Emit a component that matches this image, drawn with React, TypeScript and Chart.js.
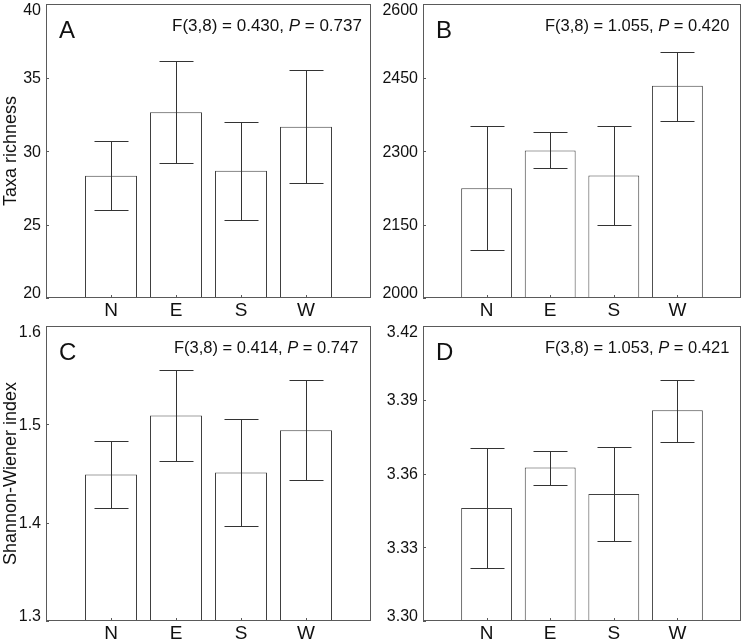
import React, { useEffect, useRef } from 'react';
import { Chart, registerables } from 'chart.js';

Chart.register(...registerables);

const FONT = '"Liberation Sans", Arial, Helvetica, sans-serif';

// categories (blank ends give the outer spacing of the original axes)
const categories = ['', 'N', 'E', 'S', 'W', ''];

// Panel A: taxa richness
const richnessMean = [null, 28.32, 32.63, 28.66, 31.65, null];
const richnessLow = [null, 25.96, 29.16, 25.31, 27.8, null];
const richnessHigh = [null, 30.66, 36.14, 31.97, 35.49, null];
const richnessTicks = [20, 25, 30, 35, 40];

// Panel B
const bMean = [null, 2224, 2301, 2250, 2433, null];
const bLow = [null, 2097, 2265, 2150, 2362, null];
const bHigh = [null, 2351, 2339, 2351, 2503, null];
const bTicks = [2000, 2150, 2300, 2450, 2600];

// Panel C: Shannon-Wiener index
const shannonMean = [null, 1.449, 1.509, 1.451, 1.494, null];
const shannonLow = [null, 1.415, 1.463, 1.397, 1.443, null];
const shannonHigh = [null, 1.483, 1.555, 1.505, 1.545, null];
const shannonTicks = [1.3, 1.4, 1.5, 1.6];

// Panel D
const dMean = [null, 3.346, 3.3624, 3.3517, 3.3857, null];
const dLow = [null, 3.3217, 3.3553, 3.3327, 3.3728, null];
const dHigh = [null, 3.3704, 3.3692, 3.3707, 3.3982, null];
const dTicks = [3.3, 3.33, 3.36, 3.39, 3.42];

type PanelCfg = {
  letter: string;
  mean: (number | null)[];
  low: (number | null)[];
  high: (number | null)[];
  ticks: number[];
  decimals: number;
  yTitle: string;
  stat1: string;
  stat2: string;
  statX: number;
  statSize: number;
  left: number;
  top: number;
  width: number;
  height: number;
  padTop: number;
  padRight: number;
  yAxisW: number;
  xAxisH: number;
};

const panels: PanelCfg[] = [
  {
    letter: 'A', mean: richnessMean, low: richnessLow, high: richnessHigh, ticks: richnessTicks, decimals: 0,
    yTitle: 'Taxa richness', stat1: 'F(3,8) = 0.430, ', stat2: ' = 0.737', statX: 126, statSize: 17,
    left: 0, top: 0, width: 372, height: 320, padTop: 4, padRight: 1, yAxisW: 46, xAxisH: 22,
  },
  {
    letter: 'B', mean: bMean, low: bLow, high: bHigh, ticks: bTicks, decimals: 0,
    yTitle: '', stat1: 'F(3,8) = 1.055, ', stat2: ' = 0.420', statX: 122, statSize: 16.5,
    left: 372, top: 0, width: 372, height: 320, padTop: 4, padRight: 3, yAxisW: 51, xAxisH: 22,
  },
  {
    letter: 'C', mean: shannonMean, low: shannonLow, high: shannonHigh, ticks: shannonTicks, decimals: 1,
    yTitle: 'Shannon-Wiener index', stat1: 'F(3,8) = 0.414, ', stat2: ' = 0.747', statX: 128, statSize: 16.5,
    left: 0, top: 320, width: 372, height: 321, padTop: 6, padRight: 1, yAxisW: 46, xAxisH: 20,
  },
  {
    letter: 'D', mean: dMean, low: dLow, high: dHigh, ticks: dTicks, decimals: 2,
    yTitle: '', stat1: 'F(3,8) = 1.053, ', stat2: ' = 0.421', statX: 122, statSize: 16.5,
    left: 372, top: 320, width: 372, height: 321, padTop: 6, padRight: 3, yAxisW: 51, xAxisH: 20,
  },
];

function makePlugin(cfg: PanelCfg) {
  return {
    id: 'panelDecor' + cfg.letter,
    afterDatasetsDraw(chart: any) {
      const ctx: CanvasRenderingContext2D = chart.ctx;
      const { left, right, top, bottom } = chart.chartArea;
      const xs = chart.scales.x;
      const ys = chart.scales.y;
      ctx.save();

      // error bars
      ctx.strokeStyle = '#333333';
      ctx.lineWidth = 1;
      const capHalf = 17;
      for (let i = 0; i < categories.length; i++) {
        const lo = cfg.low[i];
        const hi = cfg.high[i];
        if (lo == null || hi == null) continue;
        const x = Math.round(xs.getPixelForValue(i)) + 0.5;
        const yl = Math.round(ys.getPixelForValue(lo)) + 0.5;
        const yh = Math.round(ys.getPixelForValue(hi)) + 0.5;
        ctx.beginPath();
        ctx.moveTo(x, yl);
        ctx.lineTo(x, yh);
        ctx.moveTo(x - capHalf, yl);
        ctx.lineTo(x + capHalf, yl);
        ctx.moveTo(x - capHalf, yh);
        ctx.lineTo(x + capHalf, yh);
        ctx.stroke();
      }

      // frame
      ctx.strokeStyle = '#5a5a5a';
      ctx.strokeRect(left + 0.5, top + 0.5, right - left - 1, bottom - top - 1);

      // inner tick marks
      ctx.beginPath();
      for (let i = 0; i < categories.length; i++) {
        if (!categories[i]) continue;
        const x = Math.round(xs.getPixelForValue(i)) + 0.5;
        ctx.moveTo(x, bottom);
        ctx.lineTo(x, bottom - 3);
      }
      cfg.ticks.forEach((t) => {
        const y = Math.round(ys.getPixelForValue(t)) + 0.5;
        ctx.moveTo(left, y);
        ctx.lineTo(left + 3, y);
      });
      ctx.stroke();

      // y tick labels
      ctx.fillStyle = '#111111';
      ctx.font = `16px ${FONT}`;
      ctx.textAlign = 'right';
      ctx.textBaseline = 'alphabetic';
      cfg.ticks.forEach((t) => {
        const y = ys.getPixelForValue(t);
        const base = Math.max(top + 11, Math.min(bottom, y + 5.7));
        ctx.fillText(t.toFixed(cfg.decimals), left - 5, base);
      });

      // panel letter
      ctx.textAlign = 'left';
      ctx.font = `24px ${FONT}`;
      ctx.fillText(cfg.letter, left + 13, top + 34);

      // statistics
      ctx.font = `${cfg.statSize}px ${FONT}`;
      let x = left + cfg.statX;
      const base = top + 26.5;
      ctx.fillText(cfg.stat1, x, base);
      x += ctx.measureText(cfg.stat1).width;
      ctx.font = `italic ${cfg.statSize}px ${FONT}`;
      ctx.fillText('P', x, base);
      x += ctx.measureText('P').width;
      ctx.font = `${cfg.statSize}px ${FONT}`;
      ctx.fillText(cfg.stat2, x, base);

      ctx.restore();
    },
  };
}

function Panel({ cfg }: { cfg: PanelCfg }) {
  const ref = useRef<HTMLCanvasElement>(null);
  useEffect(() => {
    const canvas = ref.current;
    if (!canvas) return;
    const yMin = cfg.ticks[0];
    const yMax = cfg.ticks[cfg.ticks.length - 1];
    const chart = new Chart(canvas, {
      type: 'bar',
      data: {
        labels: categories,
        datasets: [
          {
            data: cfg.mean as any,
            backgroundColor: '#ffffff',
            borderColor: '#404040',
            borderWidth: 1,
            borderSkipped: false,
            barPercentage: 0.8,
            categoryPercentage: 1,
          },
        ],
      },
      options: {
        animation: false,
        responsive: false,
        maintainAspectRatio: false,
        devicePixelRatio: 1,
        layout: { padding: { top: cfg.padTop, right: cfg.padRight, left: 0, bottom: 0 } },
        plugins: {
          legend: { display: false },
          tooltip: { enabled: false },
        },
        scales: {
          x: {
            type: 'category',
            offset: false,
            grid: { display: false, drawTicks: false },
            border: { display: false },
            ticks: {
              font: { family: FONT, size: 19 },
              color: '#111111',
              padding: 1,
              maxRotation: 0,
              autoSkip: false,
            },
            afterFit: (s: any) => {
              s.height = cfg.xAxisH;
              s.paddingLeft = 0;
              s.paddingRight = 0;
            },
          },
          y: {
            type: 'linear',
            min: yMin,
            max: yMax,
            grid: { display: false, drawTicks: false },
            border: { display: false },
            ticks: { display: false },
            title: {
              display: !!cfg.yTitle,
              text: cfg.yTitle,
              font: { family: FONT, size: 18 },
              color: '#111111',
              padding: 0,
            },
            afterFit: (s: any) => {
              s.width = cfg.yAxisW;
              s.paddingTop = 0;
              s.paddingBottom = 0;
            },
          },
        },
      } as any,
      plugins: [makePlugin(cfg)],
    });
    return () => chart.destroy();
  }, [cfg]);
  return (
    <canvas
      ref={ref}
      width={cfg.width}
      height={cfg.height}
      style={{ position: 'absolute', left: cfg.left, top: cfg.top, width: cfg.width, height: cfg.height }}
    />
  );
}

export default function App() {
  return (
    <div style={{ position: 'absolute', left: 0, top: 0, width: 744, height: 641, background: '#ffffff' }}>
      {panels.map((p) => (
        <Panel key={p.letter} cfg={p} />
      ))}
    </div>
  );
}
